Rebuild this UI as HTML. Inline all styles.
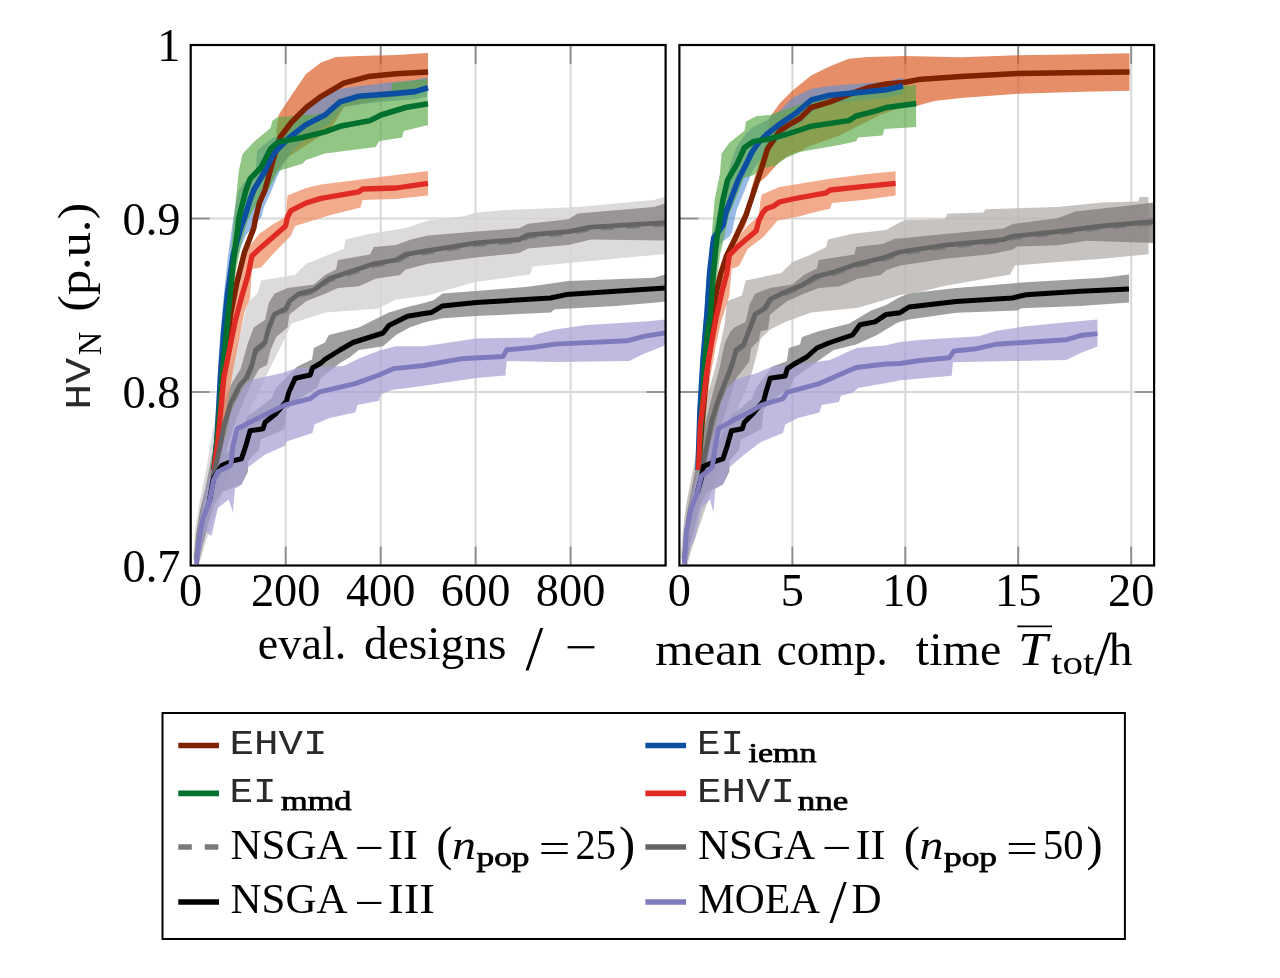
<!DOCTYPE html>
<html lang="en"><head><meta charset="utf-8"><title>HV convergence</title>
<style>html,body{margin:0;padding:0;background:#fff}svg{display:block}text{font-family:"Liberation Serif",serif;fill:#000}.tt{font-family:"Liberation Mono",monospace;fill:#2a2a2a}.b{font-weight:normal;stroke:#000;stroke-width:0.75px}.i{font-style:italic}</style></head><body>
<svg width="1280" height="978" viewBox="0 0 1280 978">
<rect x="0" y="0" width="1280" height="978" fill="#fff"/>
<g>
<line x1="285.7" y1="45" x2="285.7" y2="565.5" stroke="#d8d8d8" stroke-width="2"/>
<line x1="380.7" y1="45" x2="380.7" y2="565.5" stroke="#d8d8d8" stroke-width="2"/>
<line x1="475.6" y1="45" x2="475.6" y2="565.5" stroke="#d8d8d8" stroke-width="2"/>
<line x1="570.6" y1="45" x2="570.6" y2="565.5" stroke="#d8d8d8" stroke-width="2"/>
<line x1="190.7" y1="218.5" x2="665.6" y2="218.5" stroke="#d8d8d8" stroke-width="2"/>
<line x1="190.7" y1="392" x2="665.6" y2="392" stroke="#d8d8d8" stroke-width="2"/>
<line x1="285.7" y1="565.5" x2="285.7" y2="546.5" stroke="#8c8c8c" stroke-width="1.8"/>
<line x1="285.7" y1="45" x2="285.7" y2="64" stroke="#8c8c8c" stroke-width="1.8"/>
<line x1="380.7" y1="565.5" x2="380.7" y2="546.5" stroke="#8c8c8c" stroke-width="1.8"/>
<line x1="380.7" y1="45" x2="380.7" y2="64" stroke="#8c8c8c" stroke-width="1.8"/>
<line x1="475.6" y1="565.5" x2="475.6" y2="546.5" stroke="#8c8c8c" stroke-width="1.8"/>
<line x1="475.6" y1="45" x2="475.6" y2="64" stroke="#8c8c8c" stroke-width="1.8"/>
<line x1="570.6" y1="565.5" x2="570.6" y2="546.5" stroke="#8c8c8c" stroke-width="1.8"/>
<line x1="570.6" y1="45" x2="570.6" y2="64" stroke="#8c8c8c" stroke-width="1.8"/>
<line x1="190.7" y1="218.5" x2="209.7" y2="218.5" stroke="#8c8c8c" stroke-width="1.8"/>
<line x1="665.6" y1="218.5" x2="646.6" y2="218.5" stroke="#8c8c8c" stroke-width="1.8"/>
<line x1="190.7" y1="392" x2="209.7" y2="392" stroke="#8c8c8c" stroke-width="1.8"/>
<line x1="665.6" y1="392" x2="646.6" y2="392" stroke="#8c8c8c" stroke-width="1.8"/>
<clipPath id="cl"><rect x="190.7" y="45" width="474.9" height="520.5"/></clipPath>
<g clip-path="url(#cl)">
<polygon points="193,558 195,530 199,505 203,485 207,465 211,440 216,415 222,390 230,365 240,335 248,301.2 257.5,293.8 261.2,280.6 295,275 306.2,263.8 325,256.2 343.8,248.8 345.6,239.4 370,233.8 405.6,228 428,220.6 465,215.9 476.2,212.5 503.2,210.2 577.5,206.9 654,200 665.3,196.8 665.3,254 568.5,263 532.5,266.5 530.2,274.4 474,282.2 428,295.6 396,299.4 377.5,308.8 325,312.5 291.2,323.8 285,338 278,352 270,368 262,385 252,405 243,430 235,455 228,478 222,495 216,512 210,530 204,548 199,566" fill="#d6d4d3" fill-opacity="0.85"/>
<polygon points="194,560 196,535 200,510 205,490 209,470 213,450 218,425 224,400 232,383 240.6,368.8 248,342.5 253.8,327.5 265,320 268.8,303 274.4,293.8 287.5,288 313.8,284.4 325,275 336,269.4 338,260 370,254.4 373.8,246.9 396,245 411,239.4 428,235.6 476.2,231.6 519,228.2 528,223.8 568.5,219.2 577.5,213.6 654,206.9 665.3,203.5 665.3,240.6 591,239.5 568.5,245 528,248.5 519,253 476.2,257.5 428,263.8 405.6,269.4 400,275 375.6,278.8 358.8,286.2 338,288 325,293.8 306.2,301.2 289.4,314.4 287.5,327.5 276.2,336.9 270.6,350 266.9,365 259.4,368.8 253.8,378 245,398 236,420 228,445 222,470 217,490 212,508 207,525 202,545 198,566" fill="#8f8a89" fill-opacity="0.85"/>
<polygon points="194,558 197,530 201,508 206,490 211,470 218,458 230,450 243.7,424.4 248,415.8 271.6,398.6 275.9,388 297.3,366.4 312,359.4 313.8,348 325,342.5 328.8,335 358.8,327.5 388.8,312.5 407.5,306.9 424,303 433.5,300.2 442.5,293.5 476,291 528,286.8 568.5,281 654,277.8 665.3,274.4 665.3,301.4 656.2,302.5 615.8,305.9 555,309.2 550.5,312.6 476.2,316 442.5,318.2 424,322.5 409.4,327.5 396,335 383,346.2 358.8,350 349.4,357.5 340,363 321,378 316.7,388 300,398 286.6,409.4 284.5,428.7 275.9,433 260.8,439.4 258.7,450 248,460.9 248,471.6 241.5,484.5 222,492 214,505 208,525 203,545 198,566" fill="#858886" fill-opacity="0.8"/>
<polygon points="195.5,556 198.5,525 203.5,500 208.5,480 213,464 220,452 226.5,435.1 230.8,413.7 237.2,398.6 245.8,383.6 254.4,379.3 282.3,372.9 297.3,368 343.8,366 360,358 381,350 396,346.2 424,346.3 476.2,338.5 532.5,337.4 537,334 555,329.5 586.5,325 645,321.6 665.3,319.4 665.3,345.2 642.8,354.2 629.2,361 555,362 506.6,361 505.5,375.6 476.2,377.9 424,385.8 391.8,390 381,394.3 378.9,400.8 357.5,405.1 355.3,412.6 329.5,418 314.5,424.4 312.4,433 286.6,441.6 284.5,445.9 265.1,454.5 248,467.3 241.5,484.5 235,488.8 232.9,512.4 228.6,499.5 217.9,508 211.5,536 205,531.7 200.7,553 198,566" fill="#a79fd6" fill-opacity="0.72"/>
<polygon points="212,462 217,420 222,370 228,330 236,295 246,250 259.4,233.8 272.5,224.4 285.6,217 287.5,195.6 306,188 321,184.4 358.8,179.7 396,175 428,171 428,195.6 396,199 362.5,200 360.6,207.5 330.6,215 295,226 291,235.6 272.5,254.4 261,267.5 252,269 250,297.5 244.4,312.5 240,335 234,365 228,400 222,440 216,478" fill="#ef8a62" fill-opacity="0.72"/>
<polygon points="214,468 220.8,378 223.6,350 229,312.5 234.9,282.5 242.4,252.5 251.8,228 257.4,203 263,190 270.5,161.9 277,140 276.3,131 278.6,115 291,96 306,74 321,62.5 336,57 359,56 396,55 428,53 428,91 414.7,94 379.5,100 358.4,104 344.4,107 339,115 336,121 327.5,131.5 316,139 302,148 288,157 277,170 272,180 267,190 261.4,203 255.8,228 246.4,252.5 238.9,282.5 233,312.5 227.6,350 224.8,378 216,472" fill="#d9531a" fill-opacity="0.66"/>
<polygon points="212,465 215,430 218,368 220.5,331 224,293 228,256 232.6,222.7 235,207 238,192 243.3,183 255.6,173.6 257.1,150.6 266.3,143 274,137 280,137 291.3,124 306.3,109 321.3,98 337,90 344.4,88 392.2,82.3 415,80 427.3,77.4 427.3,96.4 414.7,99.2 379.5,102 358.4,104.8 344.4,106.3 340,111 329,124 310,135 293,150 283,165 277,176.7 271,192 264,207 261.7,216.6 255,225 246,235 236.5,258 230.5,296 226.5,333 223.5,370 219,445 216,475" fill="#5b8fd6" fill-opacity="0.62"/>
<polygon points="214,462 219,400 224,330 228,280 232,240 234,218 238.8,171 242.5,154 253.8,142 270.6,128 272.5,120.6 278,117 295,116 306.4,114.7 313.4,114.7 325,113 340,101 358,97 380,94 391,93 392.2,83 410,81 427.3,78.8 428,125 403.8,131 402,137.5 379.4,141 375.6,146.9 325,153.4 306,160 302.5,163.8 278,171 272.5,182.5 265,195.6 256,205 248,220 242,240 236,270 231,310 226,360 221,420 216,476" fill="#5aa845" fill-opacity="0.66"/>
<polyline points="214,470 216,455 222.8,378 225.6,350 231,312.5 236.9,282.5 244.4,252.5 253.8,228 255.6,218.1 259.4,203 265,190 272.5,161.9 280,137.5 291.3,122.5 306.3,107.5 321.3,96.3 343.8,83.1 368.1,76.6 396.3,73.8 428.1,71.9" fill="none" stroke="#7f2200" stroke-width="5.5" stroke-linejoin="round"/>
<polyline points="214,470 217,440 221,368.8 223.8,331 227.5,293.8 233,256 240.6,228 244.4,218.1 250,200 253.8,190 265,171 274.4,152.5 289.4,137.5 306.3,124.4 325,115 340,101.9 358.8,96.3 396.3,93.4 415,91.6 428,87.8" fill="none" stroke="#0b4ea2" stroke-width="5.6" stroke-linejoin="round"/>
<polyline points="214,470 218,430 222.8,368.8 225.6,340.6 229.4,303 233,265.6 237.8,228 238.8,218 243.4,200 246,190 250,178.8 261,167.5 270.6,148.8 278,142 302.5,137.5 325,131.9 340,126.3 370,120.6 381,115 405.6,107.5 428,103.8" fill="none" stroke="#00702f" stroke-width="5.5" stroke-linejoin="round"/>
<polyline points="214,470 218,440 223.8,378 229.4,350 235,321.9 242.5,293.8 248,275 251.9,256 257.5,250.6 272.5,237.5 285.6,226 287.5,216.9 291,210.6 306,203 321,198.4 358.8,191.9 362.5,189 396,188 428,183.4" fill="none" stroke="#e02a24" stroke-width="5.3" stroke-linejoin="round"/>
<polyline points="214,476 218.3,458.8 224.7,426.6 231.2,405.2 239.8,388 246.7,380.2 252.3,367.2 256,352.2 265.4,344.7 269.1,329.7 274.8,316.6 286,310.9 289.8,303.4 299.1,295.9 314.1,292.2 329.1,280.9 340.4,277.2 374.1,265.9 396.4,262.2 406,256.6 428.4,252.8 476.6,245.1 519.4,241.7 528.4,237.2 568.9,233.8 591.4,229.3 665.7,224.8" fill="none" stroke="#7a7a7a" stroke-width="3.6" stroke-linejoin="round" stroke-dasharray="13 13"/>
<polyline points="209.3,501.7 213.6,473.8 217.9,456.6 224.3,424.4 230.8,403 239.4,385.8 246.2,378 251.9,365 255.6,350 265,342.5 268.8,327.5 274.4,314.4 285.6,308.8 289.4,301.2 298.8,293.8 313.8,290 328.8,278.8 340,275 373.8,263.8 396,260 405.6,254.4 428,250.6 476.2,242.9 519,239.5 528,235 568.5,231.6 591,227.1 665.3,222.6" fill="none" stroke="#646464" stroke-width="4.8" stroke-linejoin="round"/>
<polyline points="209.3,501.7 213.6,478 222.2,465.2 232.9,460.9 241.5,458.8 245.8,445.9 250.1,430.8 263,428.7 265.1,422.3 275.9,413.7 286.6,400.8 288.8,392.2 295.2,378.2 310.2,375 312.4,368 321,363 325,359.4 340,350 353,342.5 383,333 388.8,325.6 407.5,316.2 424,313.5 431.2,312.6 442.5,305.9 476.2,302.5 550.5,298 566.2,294.6 665.3,287.9" fill="none" stroke="#000000" stroke-width="5.0" stroke-linejoin="round"/>
<polyline points="196.4,564 198.6,542.5 202.9,518.9 209.3,501.7 213.6,480.2 217.9,471.6 230.8,465.2 232.9,445.9 237.2,428.7 254.4,420.1 271.6,411.5 284.5,405.1 310.2,398.6 318.8,392.2 355.3,383.6 378.9,375 394,368.6 424,365.5 460.5,358.8 503.2,356.5 506.6,349.8 532.5,347.5 555,344.1 627,340.8 645,336.2 665.3,332.9" fill="none" stroke="#7e7abc" stroke-width="4.9" stroke-linejoin="round"/>
</g>
<rect x="190.7" y="45" width="474.9" height="520.5" fill="none" stroke="#000" stroke-width="2.2"/>
</g>
<g>
<line x1="792.4" y1="45" x2="792.4" y2="565.5" stroke="#d8d8d8" stroke-width="2"/>
<line x1="905.3" y1="45" x2="905.3" y2="565.5" stroke="#d8d8d8" stroke-width="2"/>
<line x1="1018.2" y1="45" x2="1018.2" y2="565.5" stroke="#d8d8d8" stroke-width="2"/>
<line x1="1131.2" y1="45" x2="1131.2" y2="565.5" stroke="#d8d8d8" stroke-width="2"/>
<line x1="679.4" y1="218.5" x2="1154.1" y2="218.5" stroke="#d8d8d8" stroke-width="2"/>
<line x1="679.4" y1="392" x2="1154.1" y2="392" stroke="#d8d8d8" stroke-width="2"/>
<line x1="792.4" y1="565.5" x2="792.4" y2="546.5" stroke="#8c8c8c" stroke-width="1.8"/>
<line x1="792.4" y1="45" x2="792.4" y2="64" stroke="#8c8c8c" stroke-width="1.8"/>
<line x1="905.3" y1="565.5" x2="905.3" y2="546.5" stroke="#8c8c8c" stroke-width="1.8"/>
<line x1="905.3" y1="45" x2="905.3" y2="64" stroke="#8c8c8c" stroke-width="1.8"/>
<line x1="1018.2" y1="565.5" x2="1018.2" y2="546.5" stroke="#8c8c8c" stroke-width="1.8"/>
<line x1="1018.2" y1="45" x2="1018.2" y2="64" stroke="#8c8c8c" stroke-width="1.8"/>
<line x1="1131.2" y1="565.5" x2="1131.2" y2="546.5" stroke="#8c8c8c" stroke-width="1.8"/>
<line x1="1131.2" y1="45" x2="1131.2" y2="64" stroke="#8c8c8c" stroke-width="1.8"/>
<line x1="679.4" y1="218.5" x2="698.4" y2="218.5" stroke="#8c8c8c" stroke-width="1.8"/>
<line x1="1154.1" y1="218.5" x2="1135.1" y2="218.5" stroke="#8c8c8c" stroke-width="1.8"/>
<line x1="679.4" y1="392" x2="698.4" y2="392" stroke="#8c8c8c" stroke-width="1.8"/>
<line x1="1154.1" y1="392" x2="1135.1" y2="392" stroke="#8c8c8c" stroke-width="1.8"/>
<clipPath id="cr"><rect x="679.4" y="45" width="474.7" height="520.5"/></clipPath>
<g clip-path="url(#cr)">
<polygon points="681,558 683,530 686,505 690,485 694,465 698,440 703,415 709,390 716,365 725,321.9 726.9,301.2 741.9,295.6 745.6,280.6 781.2,273 792.5,261.9 811.2,254.4 826.2,246.9 828,239.4 852.5,233.8 886.2,230 895.6,224.4 905,220 945,219 947.2,213.7 983.2,212.6 985.5,209.2 1057.4,207 1102.4,202.5 1138.4,201.4 1139.5,196.9 1148.5,196.9 1148.5,254.2 1102.4,258.7 1057.4,262 1014.7,265.5 1010.2,274.5 945,285.7 920,292 900,295 886.2,299.4 858,307.8 811.2,312.5 785,321.9 770,329.4 760.6,338.8 754,365 748,385 739,405 730,430 722,455 716,478 710,495 704,512 698,530 692,548 687,566" fill="#bcb8b6" fill-opacity="0.85"/>
<polygon points="682,560 684,535 687,512 691,492 695,472 700,450 705,425 711,400 719.4,368.8 725,342.5 730.6,331.2 734.4,327.5 745.6,321.9 749.4,305 755,293.8 770,288 792.5,284.4 803.8,275 816.9,268.4 818.8,260 854.4,254.4 856.2,246.9 882.5,244 895.6,238.4 900,238.5 945,234 1003.5,228.4 1012.5,223.9 1057.4,218.2 1075.4,211.5 1125,205.9 1154,202.5 1154,243 1086.7,240.7 1057.4,245.2 1017,246.4 1012.5,249.7 990,254.2 945,258.7 900,265.5 886.2,270.3 880.6,275 858,278.8 839.4,286.2 818.8,288 803.8,293.8 786.9,301.2 770,314.4 768,329.4 760.6,331.2 758.8,340.6 751.2,348 749.4,361.2 743.8,368.8 736.2,378 726,410 718,435 711,460 705,485 700,505 695,525 690,545 686,566" fill="#8a8483" fill-opacity="0.85"/>
<polygon points="682,558 685,530 689,508 693,490 698,470 704,458 715,450 727,424 731,416 752,398.6 756,388 772.3,366.4 786.9,361.2 788.8,348 800,344.4 802,336.9 818.8,331.2 848.8,323.8 871.2,310.6 886.2,305 900,297 909,293.6 956.2,288 1026,282.3 1102.4,277.8 1129,274.5 1129,302.6 1080,306 1021.5,308.2 1017,310.5 956.2,312.7 909,319.5 900,321.7 895.6,323.8 876.9,335 856.2,344.4 833.8,350 815,363 811.2,366 794,378 790,388 775,398 763.7,409.4 761.6,428.7 754,433 741,439.4 739,450 729.4,460.9 729.4,471.6 723,484.5 707,492 700,505 695,525 690,545 686,566" fill="#858886" fill-opacity="0.8"/>
<polygon points="683.5,556 686.5,525 690.5,500 695.5,480 700,464 706,452 713,435 720.8,403 727.2,388 735.8,379.3 757.3,372.9 772.3,366.4 800,364 830,360 856.2,348 886.2,345.3 900,342 922.5,339.7 978.7,336.3 996.7,330.7 1026,326.2 1062,322.8 1097.5,319.5 1097.5,346.4 1080,353.2 1066.4,360 1012.5,361 952.9,362.2 951.7,375.7 900,380.2 894.7,381.5 858.2,388 851.8,393.3 841,395.4 838.9,401.9 821.7,405 819.5,412.6 798,418 785.2,424.4 783,433 761.6,441.6 744.4,454.5 729.4,467.3 723,484.5 715.4,488.8 713.3,512.4 710,499.5 701.5,508 695,538 690,548 686,566" fill="#a79fd6" fill-opacity="0.72"/>
<polygon points="696.5,462 698.5,424 704,372 708.5,342 713,316 718,292 722.5,272 726,252 734,242 747.7,225.8 758.7,216 760.6,200 761.6,194.7 779.4,187 830,178.8 867.5,174 895.6,171.2 895.6,195.6 867.5,199.4 831.9,203 830,208.8 826.2,209.4 811.2,213 800,216.2 777.5,220.6 763.6,236.8 747.7,249 739,266 731.7,268.7 729.3,295.7 721,322 716,345 710,378 704,430 700.5,478" fill="#ef8a62" fill-opacity="0.72"/>
<polygon points="696.5,462 699.5,430 703,390 707,350 711,316 714.4,292 718.7,273.6 724.8,255.2 730.9,243 740.8,227 745.7,212.3 749.3,200 751,190 758.6,163.8 766,145 768,128 770,116.9 779.4,103.8 792.5,90.6 811.2,75.6 830,66.2 848.8,58.8 867.5,56.9 905,55.9 961,57.3 1017.8,55.2 1082.8,54.2 1129.5,53.2 1129.5,90.8 1082.8,91.8 1017.8,93.8 961,97.9 934.5,101 916.2,106 900,108 880,115 860,125 839.4,135.6 807.5,146.9 802,150.6 792,153.7 779.8,161.3 766,176.7 759,183 756,190 753.3,200 749.7,212.3 744.8,227 734.9,243 728.8,255.2 722.7,273.6 718.4,292 715,316 711,350 707,390 703.5,430 700.5,476" fill="#d9531a" fill-opacity="0.66"/>
<polygon points="696,465 698,410 700.5,360 704.5,310 707,273 710,245 713,232 715.3,222.7 720,199.7 726,179.8 731.4,161.3 736.8,146 746,133.7 752,127.6 767.5,120 772,115.3 779.8,111 787.4,103 792.5,98 811.2,88.8 830,86 867.5,83 886.2,81.5 903,77.5 903,94 886.2,97.5 867.5,99.5 830,104 814,111 800,124 785,135 770,148 757.5,163 752,172 744,192 736.5,210.4 732,232 730,236 722,242 717,250 713,276 710,312 705.5,362 702,412 700,475" fill="#5b8fd6" fill-opacity="0.62"/>
<polygon points="696.5,462 700,400 703,350 707,300 710,260 712.5,225 714.6,199.7 720,173.6 721.5,153.7 729.1,143 744.5,130.7 746,121.5 756.7,116 770,115 790,108 811,100 830,95 860,90 890,87 916,85 916.2,127 884.4,129 882.5,135.6 858,137.5 856.2,141.2 839.4,145 807.5,150.6 800,152 785.9,158 775,166 766,167.5 761,168 754,175 744,178 736,198 729,215 724,238 720,255 716,285 712,320 708,360 704.5,410 700.5,476" fill="#5aa845" fill-opacity="0.66"/>
<polyline points="698.5,470 701.5,430 705,390 709,350 713,316 716.4,292 720.7,273.6 726.8,255.2 732.9,243 735.3,238 746,215 753.7,192 761.3,169 767.5,149 779.8,130.7 792,123 800,118.4 811.2,107.5 830,101.9 848.8,94.4 867.5,87.8 886.2,84 905,82.2 918.3,79.6 961,76.6 1017.8,73.5 1082.8,72.5 1129.5,72.1" fill="none" stroke="#7f2200" stroke-width="5.5" stroke-linejoin="round"/>
<polyline points="698,470 700,410 703,360 707.2,310.4 709.6,273.6 712.8,245 713.8,238 723.1,225 726,212 730.7,199.7 738.3,179.8 746,164.4 752,152 759,142 767.5,133.7 779.4,124.4 796.2,113 811.2,100 830,95.3 867.5,91.6 886.2,89.7 903,85.9" fill="none" stroke="#0b4ea2" stroke-width="5.6" stroke-linejoin="round"/>
<polyline points="698.5,470 702,410 705,360 707.8,330 710.2,316.6 713.3,273.6 716.9,238 723,199.7 727.6,179.8 736.8,164.4 744.5,147.5 753.7,141.4 769,139 785.9,134.5 800,130 811.2,126.2 848.8,120.6 856.2,116 875,111.2 886.2,107.5 916.2,103.5" fill="none" stroke="#00702f" stroke-width="5.5" stroke-linejoin="round"/>
<polyline points="698.5,470 700.3,426 707,370 711.9,340.6 716.4,316.6 721.9,292 726.8,273.6 729.3,255.2 739,245.4 756.3,230.7 758.7,220.9 762.5,213 766.2,208.8 773.8,206 779.4,202 792.5,199 826.2,192.8 830,190 867.5,186.2 895.6,183.4" fill="none" stroke="#e02a24" stroke-width="5.3" stroke-linejoin="round"/>
<polyline points="701.9,476.2 706.4,452.2 712.4,422.2 719.4,400.2 727.3,380.2 732.9,365.2 736.6,352.2 744.1,346.6 749.8,331.6 755.4,316.6 764.8,310.9 770.4,301.6 781.6,295.9 802.4,287.5 815.4,279.1 834.1,274.2 858.4,265.9 882.9,260.2 896,255.6 900.4,254.2 945.4,247.4 1003.9,241.8 1012.9,238.4 1057.8,233.9 1102.8,228.2 1154.4,223.8" fill="none" stroke="#7a7a7a" stroke-width="3.6" stroke-linejoin="round" stroke-dasharray="13 13"/>
<polyline points="697.2,493 701.5,474 706,450 712,420 719,398 726.9,378 732.5,363 736.2,350 743.8,344.4 749.4,329.4 755,314.4 764.4,308.8 770,299.4 781.2,293.8 802,285.3 815,276.9 833.8,272 858,263.8 882.5,258 895.6,253.4 900,252 945,245.2 1003.5,239.6 1012.5,236.2 1057.4,231.7 1102.4,226 1154,221.6" fill="none" stroke="#646464" stroke-width="4.8" stroke-linejoin="round"/>
<polyline points="697.2,493 701.5,478 703.6,466.3 716.5,460.9 723,458.8 727.2,445.9 731.5,430.8 742.3,428.7 744.4,422.3 753,413.7 763.7,400.8 765.9,392.2 770.2,378.2 785.2,376 787.3,368.6 793.8,364.3 806.7,357 816.9,348 830,342.5 852.5,335 860,324.7 875,321.9 886.2,314.4 900,312.7 909,307 956.2,301.5 1012.5,298 1026,294.7 1080,291.3 1129,289" fill="none" stroke="#000000" stroke-width="5.0" stroke-linejoin="round"/>
<polyline points="684.3,564 686.4,531.7 690.7,510.3 697.2,493 701.5,476 712.2,467.3 715.4,445.9 718.6,428.7 733.7,420 750.8,411.5 761.6,405 783,398.6 787.3,392.2 819.5,383.6 838.9,375 856,367.5 886,364 900,363.5 920,360.5 949.5,357.7 954,351 976.5,348.7 996.7,344.2 1066.4,339.7 1082.2,335.2 1097.5,333.6" fill="none" stroke="#7e7abc" stroke-width="4.9" stroke-linejoin="round"/>
</g>
<rect x="679.4" y="45" width="474.7" height="520.5" fill="none" stroke="#000" stroke-width="2.2"/>
</g>
<text transform="translate(180.5,61) scale(0.98,1)" font-size="47.3" text-anchor="end">1</text>
<text transform="translate(180.5,234.5) scale(0.98,1)" font-size="47.3" text-anchor="end">0.9</text>
<text transform="translate(180.5,408) scale(0.98,1)" font-size="47.3" text-anchor="end">0.8</text>
<text transform="translate(180.5,581.5) scale(0.98,1)" font-size="47.3" text-anchor="end">0.7</text>
<text transform="translate(190.7,606.3) scale(0.98,1)" font-size="47.3" text-anchor="middle">0</text>
<text transform="translate(285.7,606.3) scale(0.98,1)" font-size="47.3" text-anchor="middle">200</text>
<text transform="translate(380.7,606.3) scale(0.98,1)" font-size="47.3" text-anchor="middle">400</text>
<text transform="translate(475.6,606.3) scale(0.98,1)" font-size="47.3" text-anchor="middle">600</text>
<text transform="translate(570.6,606.3) scale(0.98,1)" font-size="47.3" text-anchor="middle">800</text>
<text transform="translate(679.4,606.3) scale(0.98,1)" font-size="47.3" text-anchor="middle">0</text>
<text transform="translate(792.4,606.3) scale(0.98,1)" font-size="47.3" text-anchor="middle">5</text>
<text transform="translate(905.3,606.3) scale(0.98,1)" font-size="47.3" text-anchor="middle">10</text>
<text transform="translate(1018.2,606.3) scale(0.98,1)" font-size="47.3" text-anchor="middle">15</text>
<text transform="translate(1131.2,606.3) scale(0.98,1)" font-size="47.3" text-anchor="middle">20</text>
<text x="257.8" y="659.3" font-size="47.3" textLength="88.5" lengthAdjust="spacingAndGlyphs">eval.</text>
<text x="364" y="659.3" font-size="47.3" textLength="142.5" lengthAdjust="spacingAndGlyphs">designs</text>
<text x="525.5" y="670.3" font-size="64">/</text>
<text x="565" y="662.7" font-size="47.3" textLength="32.5" lengthAdjust="spacingAndGlyphs">−</text>
<text x="655.2" y="665" font-size="47.3" textLength="106.5" lengthAdjust="spacingAndGlyphs">mean</text>
<text x="776.8" y="665" font-size="47.3" textLength="111" lengthAdjust="spacingAndGlyphs">comp.</text>
<text x="915.8" y="665" font-size="47.3" textLength="85.5" lengthAdjust="spacingAndGlyphs">time</text>
<text x="1018" y="665" font-size="47.3" class="i" textLength="29.5" lengthAdjust="spacingAndGlyphs">T</text>
<line x1="1017.3" y1="626.3" x2="1052" y2="626.3" stroke="#000" stroke-width="1.8"/>
<text x="1051" y="673.8" font-size="33" textLength="43.5" lengthAdjust="spacingAndGlyphs">tot</text>
<text x="1093.5" y="675.3" font-size="64">/</text>
<text x="1108.7" y="665" font-size="47.3">h</text>
<g transform="translate(90.4,408.3) rotate(-90)">
<text x="-1.5" y="0" font-size="37.5" class="tt" textLength="52" lengthAdjust="spacingAndGlyphs">HV</text>
<text x="53" y="11" font-size="34.5" textLength="23.5" lengthAdjust="spacingAndGlyphs">N</text>
<text x="96.5" y="0" font-size="47.3" textLength="109" lengthAdjust="spacingAndGlyphs">(p.u.)</text>
</g>
<rect x="162.5" y="713" width="962.4" height="226" fill="#fff" stroke="#000" stroke-width="2"/>
<line x1="178.3" y1="745.5" x2="219" y2="745.5" stroke="#7f2200" stroke-width="5.7"/>
<line x1="645.4" y1="745.5" x2="686.1" y2="745.5" stroke="#0b4ea2" stroke-width="5.7"/>
<line x1="178.3" y1="793.3" x2="219" y2="793.3" stroke="#00702f" stroke-width="5.7"/>
<line x1="645.4" y1="793.3" x2="686.1" y2="793.3" stroke="#e02a24" stroke-width="5.7"/>
<line x1="178.3" y1="847" x2="219" y2="847" stroke="#7a7a7a" stroke-width="5.7" stroke-dasharray="13.5 13"/>
<line x1="645.4" y1="847" x2="686.1" y2="847" stroke="#646464" stroke-width="5.7"/>
<line x1="178.3" y1="902" x2="219" y2="902" stroke="#000000" stroke-width="5.7"/>
<line x1="645.4" y1="902" x2="686.1" y2="902" stroke="#7e7abc" stroke-width="5.7"/>
<text x="229.5" y="753.8" font-size="35.3" class="tt" textLength="98" lengthAdjust="spacingAndGlyphs">EHVI</text>
<text x="697" y="753.8" font-size="35.3" class="tt" textLength="47" lengthAdjust="spacingAndGlyphs">EI</text>
<text x="748.5" y="761.8" font-size="27.5" class="b" textLength="68" lengthAdjust="spacingAndGlyphs">iemn</text>
<text x="229.5" y="802.3" font-size="35.3" class="tt" textLength="47" lengthAdjust="spacingAndGlyphs">EI</text>
<text x="281" y="810" font-size="27.5" class="b" textLength="70.5" lengthAdjust="spacingAndGlyphs">mmd</text>
<text x="697" y="802.3" font-size="35.3" class="tt" textLength="98" lengthAdjust="spacingAndGlyphs">EHVI</text>
<text x="797.8" y="810" font-size="27.5" class="b" textLength="50.5" lengthAdjust="spacingAndGlyphs">nne</text>
<text x="230.5" y="858.8" font-size="42.3" textLength="117" lengthAdjust="spacingAndGlyphs">NSGA</text>
<text x="354.5" y="862.3" font-size="42.3" textLength="29.5" lengthAdjust="spacingAndGlyphs">−</text>
<text x="388" y="858.8" font-size="42.3" textLength="30" lengthAdjust="spacingAndGlyphs">II</text>
<text x="436.3" y="860" font-size="48.5">(</text>
<text x="452" y="858.8" font-size="42.3" class="i" textLength="24" lengthAdjust="spacingAndGlyphs">n</text>
<text x="476.5" y="866.4" font-size="27.5" class="b" textLength="53" lengthAdjust="spacingAndGlyphs">pop</text>
<text x="538.5" y="862" font-size="42.3" textLength="32" lengthAdjust="spacingAndGlyphs">=</text>
<text x="575.5" y="858.8" font-size="42.3" textLength="40.5" lengthAdjust="spacingAndGlyphs">25</text>
<text x="619" y="860" font-size="48.5">)</text>
<text x="698" y="858.8" font-size="42.3" textLength="117" lengthAdjust="spacingAndGlyphs">NSGA</text>
<text x="822" y="862.3" font-size="42.3" textLength="29.5" lengthAdjust="spacingAndGlyphs">−</text>
<text x="855.5" y="858.8" font-size="42.3" textLength="30" lengthAdjust="spacingAndGlyphs">II</text>
<text x="903.8" y="860" font-size="48.5">(</text>
<text x="919.5" y="858.8" font-size="42.3" class="i" textLength="24" lengthAdjust="spacingAndGlyphs">n</text>
<text x="944" y="866.4" font-size="27.5" class="b" textLength="53" lengthAdjust="spacingAndGlyphs">pop</text>
<text x="1006" y="862" font-size="42.3" textLength="32" lengthAdjust="spacingAndGlyphs">=</text>
<text x="1043" y="858.8" font-size="42.3" textLength="40.5" lengthAdjust="spacingAndGlyphs">50</text>
<text x="1086.5" y="860" font-size="48.5">)</text>
<text x="230.5" y="913" font-size="42.3" textLength="117" lengthAdjust="spacingAndGlyphs">NSGA</text>
<text x="354.5" y="916.5" font-size="42.3" textLength="29.5" lengthAdjust="spacingAndGlyphs">−</text>
<text x="388" y="913" font-size="42.3" textLength="47" lengthAdjust="spacingAndGlyphs">III</text>
<text x="698" y="913" font-size="42.3" textLength="122" lengthAdjust="spacingAndGlyphs">MOEA</text>
<text x="829.5" y="921.5" font-size="62">/</text>
<text x="851.5" y="913" font-size="42.3" textLength="30" lengthAdjust="spacingAndGlyphs">D</text>
</svg></body></html>
